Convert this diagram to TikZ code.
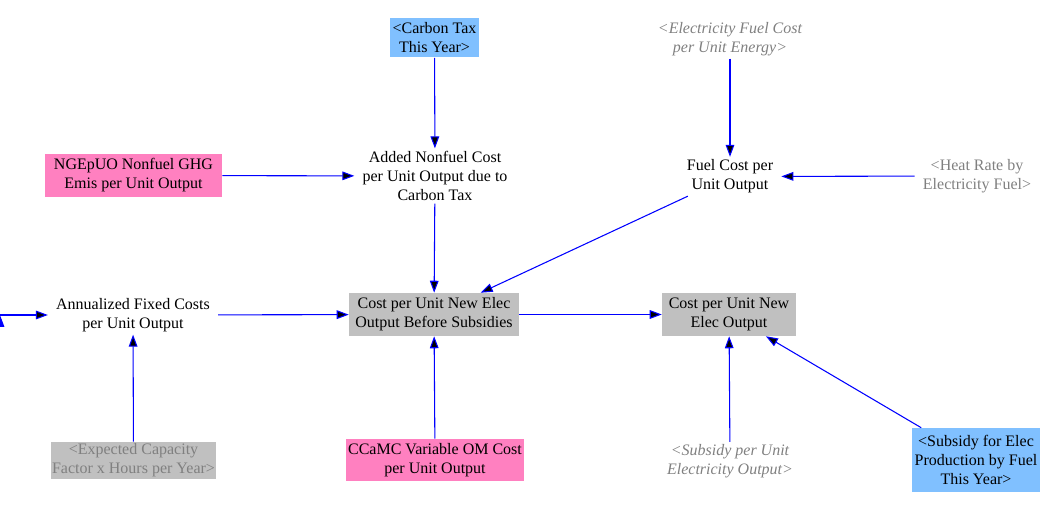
\documentclass[tikz,border=0pt]{standalone}
\usepackage{fontspec}
\setmainfont{Liberation Serif}
\usetikzlibrary{arrows.meta}

\definecolor{skyblue}{HTML}{80C0FF}
\definecolor{pinkbox}{HTML}{FF80C0}
\definecolor{graybox}{HTML}{C0C0C0}
\definecolor{shadowtext}{HTML}{808080}
\definecolor{linkblue}{HTML}{0000FF}

\tikzset{
  var/.style={shape=rectangle,align=center,inner xsep=6pt,inner ysep=2pt,font=\fontsize{12}{14.25}\selectfont},
  box/.style={var,inner sep=0pt},
  shadow/.style={text=shadowtext},
  link/.style={-{Triangle[length=9pt,width=6.5pt]},draw=linkblue,line width=0.8pt}
}

\begin{document}
\begin{tikzpicture}[x=0.75pt,y=-0.75pt]
\useasboundingbox (0,0) rectangle (1059,505);
\node[box,fill=skyblue,minimum width=66.75pt,minimum height=29.25pt] (0) at (434.5,38) {<Carbon Tax\\This Year>};
\node[var] (1) at (435,176) {Added Nonfuel Cost\\per Unit Output due to\\Carbon Tax};
\node[box,fill=pinkbox,minimum width=132.75pt,minimum height=32.25pt] (2) at (133.5,175.5) {NGEpUO Nonfuel GHG\\Emis per Unit Output};
\node[var,shadow,font=\fontsize{12}{14.25}\selectfont\itshape] (3) at (730,39) {<Electricity Fuel Cost\\per Unit Energy>};
\node[var] (4) at (730,176.5) {Fuel Cost per\\Unit Output};
\node[var,shadow] (5) at (977,176) {<Heat Rate by\\Electricity Fuel>};
\node[var] (6) at (133,315) {Annualized Fixed Costs\\per Unit Output};
\node[box,fill=graybox,minimum width=127.5pt,minimum height=32.25pt] (7) at (434,314.5) {Cost per Unit New Elec\\Output Before Subsidies};
\node[box,fill=graybox,minimum width=100.5pt,minimum height=32.25pt] (8) at (729,314.5) {Cost per Unit New\\Elec Output};
\node[box,shadow,fill=graybox,minimum width=123.75pt,minimum height=27.75pt] (9) at (133.5,460.5) {<Expected Capacity\\Factor x Hours per Year>};
\node[box,fill=pinkbox,minimum width=133.5pt,minimum height=31.5pt] (10) at (435,460) {CCaMC Variable OM Cost\\per Unit Output};
\node[var,shadow,font=\fontsize{12}{14.25}\selectfont\itshape] (11) at (730,461.5) {<Subsidy per Unit\\Electricity Output>};
\node[box,fill=skyblue,minimum width=96pt,minimum height=48pt] (12) at (976,460) {<Subsidy for Elec\\Production by Fuel\\This Year>};
\coordinate (13) at (0,315);

\path [link] (0) edge (1);
\path [link] (2) edge (1);
\path [link] (1) edge (7);
\path [link] (3) edge (4);
\path [link] (5) edge (4);
\path [link] (4) edge (7);
\path [link] (13) edge (6);
\path [link] (6) edge (7);
\path [link] (9) edge (6);
\path [link] (10) edge (7);
\path [link] (7) edge (8);
\path [link] (11) edge (8);
\path [link] (12) edge (8);
\end{tikzpicture}
\end{document}
